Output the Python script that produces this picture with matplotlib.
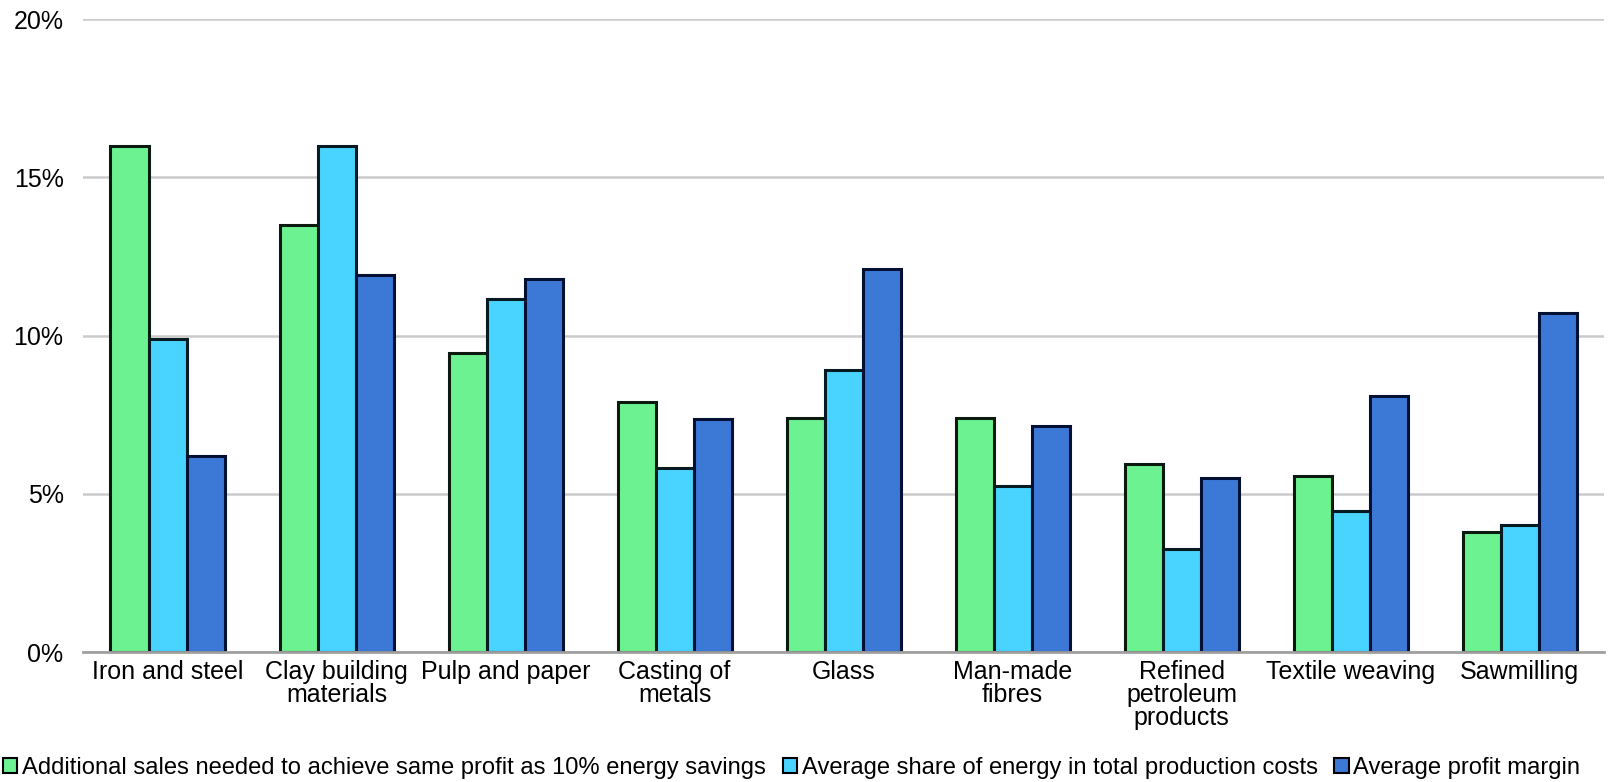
import matplotlib
matplotlib.use("Agg")
import matplotlib.pyplot as plt
import numpy as np
from matplotlib.patches import Patch

plt.rcParams['font.family'] = ['Liberation Sans', 'DejaVu Sans']

categories = ["Iron and steel", "Clay building\nmaterials", "Pulp and paper",
              "Casting of\nmetals", "Glass", "Man-made\nfibres",
              "Refined\npetroleum\nproducts", "Textile weaving", "Sawmilling"]
additional_sales = [16.0, 13.5, 9.45, 7.9, 7.4, 7.4, 5.95, 5.55, 3.78]
energy_share = [9.9, 16.0, 11.15, 5.8, 8.9, 5.25, 3.25, 4.47, 4.0]
profit_margin = [6.2, 11.9, 11.8, 7.35, 12.1, 7.15, 5.5, 8.08, 10.7]

series_names = ["Additional sales needed to achieve same profit as 10% energy savings",
                "Average share of energy in total production costs",
                "Average profit margin"]
colors = ["#6cf290", "#48d4fe", "#3c78d6"]
edges = ["#0a1a0e", "#061a22", "#021033"]

fig = plt.figure(figsize=(16.09, 7.82), dpi=100)
ax = fig.add_axes([0.0516, 0.1662, 0.9454, 0.8095])

x = np.arange(len(categories))
w = 0.225
for i, vals in enumerate([additional_sales, energy_share, profit_margin]):
    ax.bar(x + (i - 1) * w, vals, width=w, color=colors[i],
           edgecolor=edges[i], linewidth=2.2, zorder=3)

ax.set_xlim(-0.5, len(categories) - 0.5)
ax.set_ylim(0, 20)
ax.set_yticks([0, 5, 10, 15, 20])
ax.set_yticklabels(["0%", "5%", "10%", "15%", "20%"], fontsize=18)
ax.yaxis.grid(True, color="#cacaca", linewidth=1.8, zorder=0)
ax.set_xticks(x)
ax.set_xticklabels(categories, fontsize=18, linespacing=0.95)
ax.tick_params(axis="both", length=0)
ax.tick_params(axis="y", pad=14)
ax.tick_params(axis="x", pad=6)
for side in ["left", "right", "top"]:
    ax.spines[side].set_visible(False)
ax.spines["bottom"].set_color("#a0a0a0")
ax.spines["bottom"].set_linewidth(2.0)
ax.spines["bottom"].set_zorder(4)

handles = [Patch(facecolor=colors[i], edgecolor="black", linewidth=1.5)
           for i in range(3)]
fig.legend(handles, series_names, loc="center left", bbox_to_anchor=(0.002, 0.018),
           ncol=3, frameon=False, fontsize=17.1, handlelength=0.6, handleheight=0.6,
           handletextpad=0.2, columnspacing=0.7, borderaxespad=0, borderpad=0)

fig.savefig("out.png", dpi=100)
